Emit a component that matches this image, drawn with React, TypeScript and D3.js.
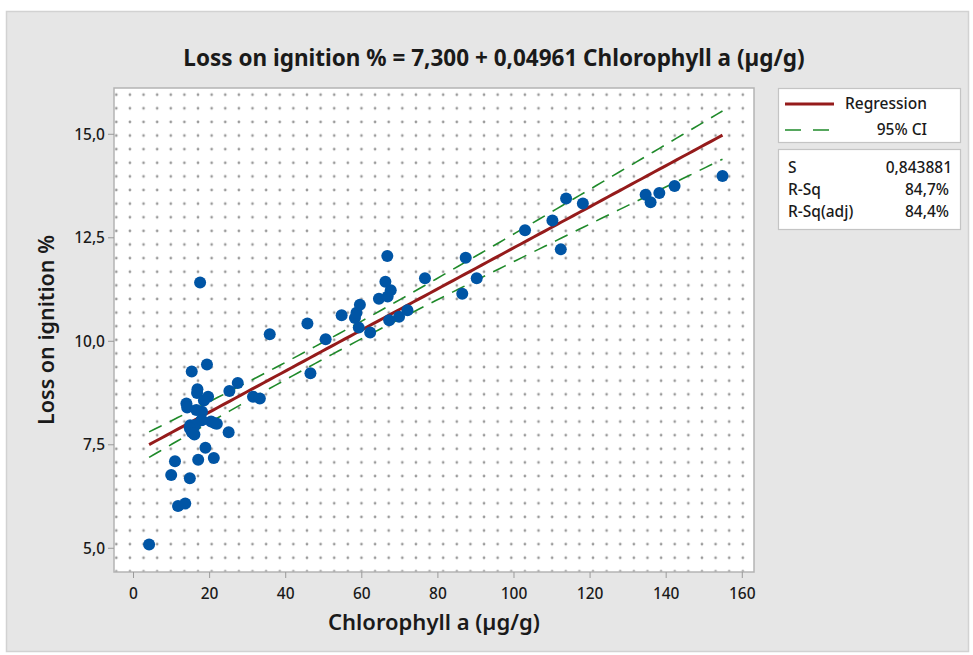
import React from "react";
import * as d3 from "d3";

const chlorophyll = [
  4.1, 9.9, 10.9, 11.7, 13.6, 14.8, 17.0, 21.1, 18.9, 25.0,
  15.3, 16.0, 14.9, 20.4, 21.9, 17.9, 13.9, 14.1, 16.5, 18.0,
  16.8, 16.7, 19.6, 18.5, 25.2, 27.4, 15.3, 19.3, 17.5, 31.4,
  33.2, 35.8, 46.5, 45.7, 50.5, 54.7, 58.2, 58.6, 59.5, 59.2,
  62.2, 64.5, 66.8, 67.6, 66.2, 66.7, 67.2, 69.8, 72.0, 76.6,
  86.4, 87.3, 90.2, 102.9, 110.1, 113.7, 118.1, 112.3, 134.6, 135.9,
  138.2, 142.2, 154.8, 16.2, 17.9, 14.8, 15.7, 21.4,
];
const lossOnIgnition = [
  5.09, 6.77, 7.10, 6.02, 6.08, 6.69, 7.14, 7.18, 7.43, 7.80,
  7.81, 7.75, 7.97, 8.06, 8.01, 8.09, 8.50, 8.40, 8.34, 8.30,
  8.84, 8.75, 8.66, 8.57, 8.80, 8.99, 9.27, 9.44, 11.42, 8.66,
  8.62, 10.17, 9.23, 10.43, 10.05, 10.63, 10.56, 10.69, 10.88, 10.33,
  10.21, 11.03, 11.08, 11.23, 11.44, 12.06, 10.51, 10.59, 10.75, 11.52,
  11.15, 12.02, 11.52, 12.68, 12.92, 13.45, 13.33, 12.22, 13.54, 13.36,
  13.58, 13.75, 13.99, 7.98, 8.10, 7.90, 7.78, 8.02,
];

const intercept = 7.3;
const slope = 0.04961;
const sValue = 0.843881;
const xTicks = [0, 20, 40, 60, 80, 100, 120, 140, 160];
const yTicks = [5, 7.5, 10, 12.5, 15];
const titleText = "Loss on ignition % = 7,300 + 0,04961 Chlorophyll a (µg/g)";
const xLabel = "Chlorophyll a (µg/g)";
const yLabel = "Loss on ignition %";
const statLabels = ["S", "R-Sq", "R-Sq(adj)"];
const statValues = ["0,843881", "84,7%", "84,4%"];

const W = 973;
const H = 655;
const plot = { left: 114, top: 88, right: 754, bottom: 572 };
const FONT = "'Noto Sans', 'Open Sans', sans-serif";
const fmt = (v: number) => d3.format(".1f")(v).replace(".", ",");

export default function App() {
  const x = d3.scaleLinear().domain([-5.13, 163.08]).range([plot.left, plot.right]);
  const y = d3.scaleLinear().domain([4.427, 16.118]).range([plot.bottom, plot.top]);

  const n = chlorophyll.length;
  const xbar = d3.mean(chlorophyll) as number;
  const sxx = d3.sum(chlorophyll, (v) => (v - xbar) ** 2);
  const tval = 1.997;
  const xmin = d3.min(chlorophyll) as number;
  const xmax = d3.max(chlorophyll) as number;
  const xs = d3.range(0, 101).map((i) => xmin + ((xmax - xmin) * i) / 100);
  const fit = (v: number) => intercept + slope * v;
  const half = (v: number) => tval * sValue * Math.sqrt(1 / n + (v - xbar) ** 2 / sxx);
  const line = d3.line<number>().x((v) => x(v)).y((v) => y(fit(v)));
  const upper = d3.line<number>().x((v) => x(v)).y((v) => y(fit(v) + half(v)));
  const lower = d3.line<number>().x((v) => x(v)).y((v) => y(fit(v) - half(v)));

  return (
    <svg
      width={W}
      height={H}
      style={{ position: "absolute", left: 0, top: 0, background: "#ffffff" }}
      fontFamily={FONT}
    >
      <defs>
        <pattern id="dots" patternUnits="userSpaceOnUse" x={116.3 - 6.8} y={94.7 - 6.8} width={13.62} height={13.62}>
          <circle cx={6.8} cy={6.8} r={1.35} fill="#9a9a9a" />
        </pattern>
        <clipPath id="clip">
          <rect x={plot.left} y={plot.top} width={plot.right - plot.left} height={plot.bottom - plot.top} />
        </clipPath>
      </defs>
      <rect x={6.5} y={11.5} width={962} height={640} fill="#e6e6e6" stroke="#d2d2d2" strokeWidth={1.5} />
      <text x={494} y={66} textAnchor="middle" fontSize={22.5} fontWeight={700} fill="#1a1a1a">
        {titleText}
      </text>
      <rect x={plot.left} y={plot.top} width={plot.right - plot.left} height={plot.bottom - plot.top} fill="#ffffff" />
      <rect x={plot.left} y={plot.top} width={plot.right - plot.left} height={plot.bottom - plot.top} fill="url(#dots)" />
      <rect x={plot.left} y={plot.top} width={plot.right - plot.left} height={plot.bottom - plot.top} fill="none" stroke="#b4b4b4" strokeWidth={1.5} />

      {xTicks.map((t) => (
        <g key={"xt" + t}>
          <line x1={x(t)} x2={x(t)} y1={plot.bottom} y2={plot.bottom + 6} stroke="#9a9a9a" strokeWidth={1} />
          <text x={x(t)} y={plot.bottom + 27} textAnchor="middle" fontSize={15.5} fontWeight={500} fill="#1a1a1a">
            {t}
          </text>
        </g>
      ))}
      {yTicks.map((t) => (
        <g key={"yt" + t}>
          <line x1={plot.left - 6} x2={plot.left} y1={y(t)} y2={y(t)} stroke="#9a9a9a" strokeWidth={1} />
          <text x={plot.left - 9} y={y(t) + 5.5} textAnchor="end" fontSize={15.5} fontWeight={500} fill="#1a1a1a">
            {fmt(t)}
          </text>
        </g>
      ))}
      <text x={434} y={630} textAnchor="middle" fontSize={22} fontWeight={600} fill="#1a1a1a">
        {xLabel}
      </text>
      <text
        transform={`translate(54, ${(plot.top + plot.bottom) / 2}) rotate(-90)`}
        textAnchor="middle"
        fontSize={21.5}
        fontWeight={600}
        fill="#1a1a1a"
      >
        {yLabel}
      </text>

      <g clipPath="url(#clip)">
        <path d={upper(xs) || ""} fill="none" stroke="#1f8a2a" strokeWidth={1.6} strokeDasharray="14 9" />
        <path d={lower(xs) || ""} fill="none" stroke="#1f8a2a" strokeWidth={1.6} strokeDasharray="14 9" />
        <path d={line(xs) || ""} fill="none" stroke="#951b1b" strokeWidth={3} />
        {chlorophyll.map((v, i) => (
          <circle key={i} cx={x(v)} cy={y(lossOnIgnition[i])} r={6} fill="#0055a5" />
        ))}
      </g>

      <rect x={778.5} y={88.5} width={182} height={54} fill="#ffffff" stroke="#c4c4c4" strokeWidth={1.2} />
      <line x1={785} x2={834} y1={104} y2={104} stroke="#951b1b" strokeWidth={3} />
      <text x={845} y={109} fontSize={15.5} fontWeight={500} fill="#1a1a1a">Regression</text>
      <line x1={785} x2={834} y1={130} y2={130} stroke="#1f8a2a" strokeWidth={1.6} strokeDasharray="16 12" />
      <text x={927} y={135} textAnchor="end" fontSize={15.5} fontWeight={500} fill="#1a1a1a">95% CI</text>

      <rect x={778.5} y={149.5} width={182} height={80} fill="#ffffff" stroke="#c4c4c4" strokeWidth={1.2} />
      {statLabels.map((lab, i) => (
        <g key={lab}>
          <text x={788} y={173 + i * 22} fontSize={15.5} fontWeight={500} fill="#1a1a1a">{lab}</text>
          <text x={i === 0 ? 952 : 949} y={173 + i * 22} textAnchor="end" fontSize={15.5} fontWeight={500} fill="#1a1a1a">
            {statValues[i]}
          </text>
        </g>
      ))}
    </svg>
  );
}
